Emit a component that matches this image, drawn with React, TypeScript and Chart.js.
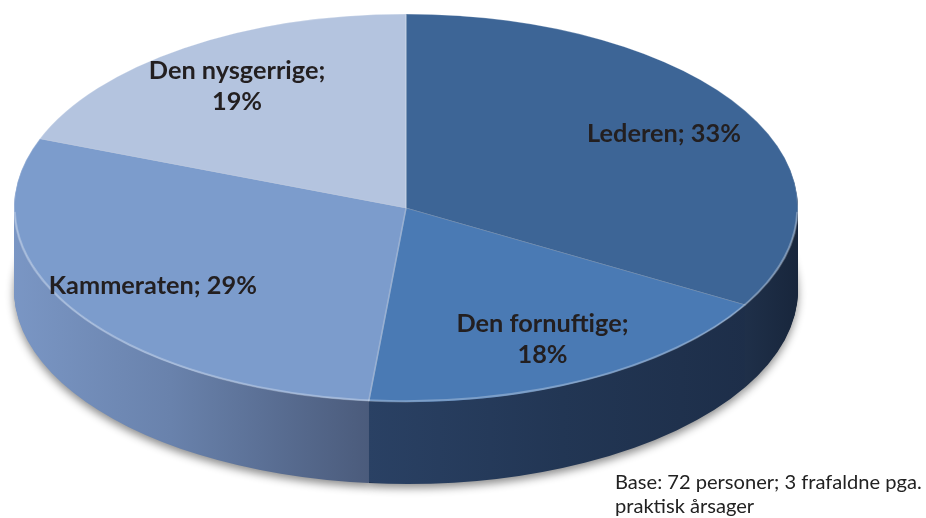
import React, { useEffect, useRef } from "react";
import { Chart, registerables } from "chart.js";

Chart.register(...registerables);

// ---- data ----
const categories = ["Lederen", "Den fornuftige", "Kammeraten", "Den nysgerrige"];
const shares = [33, 18, 29, 19];
const noteLines = ["Base: 72 personer; 3 frafaldne pga.", "praktisk årsager"];

// ---- style ----
const topColors = ["#3d6596", "#4a7ab4", "#7c9ccc", "#b4c4df"];
const sideStops: [number, string][][] = [
  [[0, "#22344f"], [0.9, "#22344f"], [1, "#18263c"]],
  [[0, "#2a4164"], [0.45, "#2a4164"], [0.7, "#223654"], [1, "#1c2c46"]],
  [[0, "#7a96c4"], [0.2, "#6982ac"], [0.46, "#4a5a7a"], [1, "#4a5a7a"]],
  [[0, "#8c9bb9"], [1, "#8c9bb9"]],
];
const W = 926;
const H = 518;
const GEO = { cx: 406, cy: 208, rx: 392, ry: 194, depth: 82, labelFrac: 0.76 };
const LABEL_FONT = "Lato";

const pie3d = {
  id: "pie3d",
  beforeDatasetsDraw(chart: any) {
    const meta = chart.getDatasetMeta(0);
    const el0 = meta.data[0];
    const ex = el0.x, ey = el0.y, R = el0.outerRadius;
    const sx = GEO.rx / R, sy = GEO.ry / R;
    const ctx: CanvasRenderingContext2D = chart.ctx;
    const apply = (dy: number) => {
      ctx.translate(GEO.cx, GEO.cy + dy);
      ctx.scale(sx, sy);
      ctx.translate(-ex, -ey);
    };
    const grads = sideStops.map((stops) => {
      const g = ctx.createLinearGradient(ex - R, 0, ex + R, 0);
      stops.forEach(([o, c]) => g.addColorStop(o, c));
      return g;
    });
    for (let d = GEO.depth; d >= 1; d--) {
      ctx.save();
      apply(d);
      if (d === GEO.depth) {
        ctx.shadowColor = "rgba(0,0,0,0.45)";
        ctx.shadowBlur = 8;
        ctx.shadowOffsetY = 4;
      }
      meta.data.forEach((el: any, i: number) => {
        const p = Object.create(el);
        p.options = { ...el.options, backgroundColor: grads[i], borderWidth: 0 };
        p.draw(ctx);
      });
      ctx.restore();
    }
    ctx.save();
    apply(0);
  },
  afterDatasetsDraw(chart: any) {
    const ctx: CanvasRenderingContext2D = chart.ctx;
    ctx.restore();
    const meta = chart.getDatasetMeta(0);
    // front rim highlight
    ctx.save();
    ctx.strokeStyle = "rgba(255,255,255,0.28)";
    ctx.lineWidth = 1.5;
    ctx.beginPath();
    ctx.ellipse(GEO.cx, GEO.cy, GEO.rx - 1, GEO.ry - 1, 0, 0.02, Math.PI - 0.02);
    ctx.stroke();
    ctx.restore();
    // labels
    ctx.save();
    ctx.fillStyle = "#231f20";
    ctx.textAlign = "center";
    ctx.textBaseline = "middle";
    ctx.font = `bold 20px ${LABEL_FONT}`;
    const base = ctx.measureText("Lederen; 33%").width;
    const size = (20 * 154) / base;
    ctx.font = `bold ${size.toFixed(1)}px ${LABEL_FONT}`;
    meta.data.forEach((el: any, i: number) => {
      const a = (el.startAngle + el.endAngle) / 2;
      const x = GEO.cx + GEO.rx * GEO.labelFrac * Math.cos(a);
      const y = GEO.cy + GEO.ry * GEO.labelFrac * Math.sin(a);
      const lines = categories[i].includes(" ")
        ? [categories[i] + ";", shares[i] + "%"]
        : [categories[i] + "; " + shares[i] + "%"];
      const lh = 31;
      lines.forEach((t, k) => {
        ctx.fillText(t, x, y + (k - (lines.length - 1) / 2) * lh);
      });
    });
    // note
    ctx.font = `17px ${LABEL_FONT}`;
    const nb = ctx.measureText(noteLines[0]).width;
    const ns = (17 * 307) / nb;
    ctx.font = `${ns.toFixed(1)}px ${LABEL_FONT}`;
    ctx.textAlign = "left";
    ctx.textBaseline = "alphabetic";
    ctx.fillStyle = "#222";
    noteLines.forEach((t, k) => ctx.fillText(t, 615, 489 + k * 24));
    ctx.restore();
  },
};

export default function App() {
  const ref = useRef<HTMLCanvasElement>(null);
  useEffect(() => {
    if (!ref.current) return;
    const chart = new Chart(ref.current, {
      type: "pie",
      data: {
        labels: categories,
        datasets: [
          {
            data: shares,
            backgroundColor: topColors,
            borderColor: "rgba(255,255,255,0.25)",
            borderWidth: 1,
            clip: false as any,
          },
        ],
      },
      options: {
        responsive: false,
        animation: false,
        devicePixelRatio: 1,
        events: [],
        layout: { padding: 0 },
        plugins: { legend: { display: false }, tooltip: { enabled: false } },
      },
      plugins: [pie3d],
    });
    return () => chart.destroy();
  }, []);
  return (
    <div style={{ position: "absolute", left: 0, top: 0, width: W, height: H, background: "#fff" }}>
      <canvas ref={ref} width={W} height={H} style={{ width: W, height: H }} />
    </div>
  );
}
